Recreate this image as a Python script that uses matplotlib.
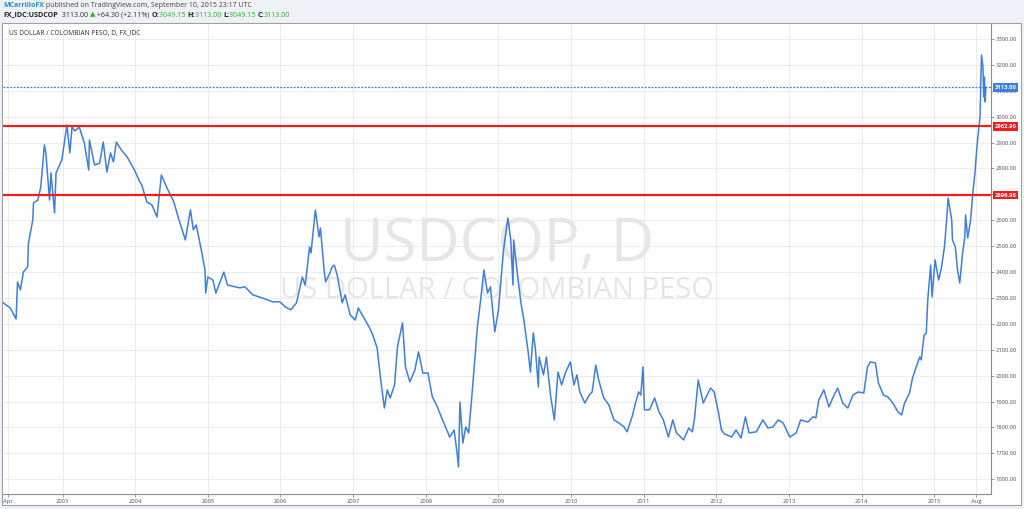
import matplotlib
matplotlib.use("Agg")
import matplotlib.pyplot as plt
import matplotlib.transforms as mtransforms
from matplotlib.patches import Rectangle

plt.rcParams['font.family'] = ['Open Sans', 'DejaVu Sans']

# USDCOP daily close (decimal year, price)
years = [2002.18, 2002.28, 2002.36, 2002.38, 2002.42, 2002.46, 2002.52, 2002.53, 2002.59, 2002.60,
         2002.66, 2002.70, 2002.75, 2002.77, 2002.82, 2002.84, 2002.89, 2002.91, 2002.99,
         2003.06, 2003.10, 2003.13, 2003.17, 2003.23, 2003.30, 2003.36, 2003.37, 2003.44, 2003.51,
         2003.56, 2003.61, 2003.66, 2003.70, 2003.74, 2003.81, 2003.89, 2003.99,
         2004.05, 2004.09, 2004.16, 2004.23, 2004.30, 2004.36, 2004.43, 2004.53, 2004.59, 2004.69,
         2004.76, 2004.80, 2004.84, 2004.91, 2004.96, 2004.97,
         2005.00, 2005.07, 2005.11, 2005.22, 2005.27, 2005.44, 2005.51, 2005.62, 2005.75, 2005.89, 2005.99,
         2006.07, 2006.14, 2006.22, 2006.30, 2006.34, 2006.40, 2006.42, 2006.48, 2006.53, 2006.55,
         2006.60, 2006.62, 2006.68, 2006.71, 2006.74, 2006.78, 2006.81, 2006.85, 2006.89, 2006.96,
         2007.03, 2007.07, 2007.15, 2007.22, 2007.26, 2007.33, 2007.38, 2007.43, 2007.47, 2007.51,
         2007.57, 2007.61, 2007.68, 2007.72, 2007.78, 2007.85, 2007.90, 2007.96,
         2008.03, 2008.09, 2008.16, 2008.23, 2008.29, 2008.33, 2008.39, 2008.43, 2008.45, 2008.47,
         2008.51, 2008.55, 2008.59, 2008.63, 2008.67, 2008.71, 2008.76, 2008.80, 2008.85, 2008.89, 2008.95,
         2009.00, 2009.07, 2009.13, 2009.17, 2009.20, 2009.21, 2009.25, 2009.31, 2009.35, 2009.41,
         2009.44, 2009.48, 2009.51, 2009.55, 2009.56, 2009.62, 2009.66, 2009.72, 2009.77, 2009.82,
         2009.87, 2009.92, 2009.99,
         2010.04, 2010.08, 2010.12, 2010.19, 2010.25, 2010.29, 2010.34, 2010.38, 2010.45, 2010.52,
         2010.59, 2010.66, 2010.73, 2010.77, 2010.84, 2010.88, 2010.93, 2010.96, 2010.99,
         2011.01, 2011.08, 2011.15, 2011.21, 2011.27, 2011.34, 2011.40, 2011.45, 2011.55, 2011.62,
         2011.67, 2011.70, 2011.75, 2011.82, 2011.86, 2011.92, 2011.97,
         2012.03, 2012.07, 2012.11, 2012.21, 2012.27, 2012.34, 2012.40, 2012.45, 2012.55, 2012.64,
         2012.71, 2012.78, 2012.85, 2012.92,
         2013.01, 2013.10, 2013.16, 2013.26, 2013.33, 2013.37, 2013.41, 2013.48, 2013.55, 2013.62,
         2013.67, 2013.74, 2013.81, 2013.88, 2013.95,
         2014.03, 2014.08, 2014.12, 2014.19, 2014.23, 2014.30, 2014.36, 2014.43, 2014.50, 2014.55,
         2014.59, 2014.66, 2014.70, 2014.76, 2014.80, 2014.82, 2014.86, 2014.89, 2014.91, 2014.95, 2014.97,
         2015.01, 2015.06, 2015.10, 2015.14, 2015.17, 2015.19, 2015.24, 2015.25, 2015.29, 2015.32,
         2015.35, 2015.39, 2015.42, 2015.43, 2015.46, 2015.50, 2015.53, 2015.56, 2015.58, 2015.60,
         2015.63, 2015.64, 2015.65, 2015.67, 2015.68, 2015.69, 2015.70, 2015.71]
prices = [2282, 2261, 2219, 2362, 2331, 2400, 2420, 2512, 2601, 2667,
          2678, 2729, 2891, 2860, 2678, 2783, 2628, 2783, 2833,
          2968, 2860, 2960, 2945, 2960, 2898, 2794, 2910, 2813, 2821,
          2902, 2786, 2860, 2825, 2902, 2871, 2844, 2794,
          2756, 2736, 2671, 2659, 2613, 2775, 2729, 2672, 2613, 2524,
          2640, 2563, 2582, 2485, 2408, 2319,
          2381, 2369, 2319, 2400, 2350, 2339, 2343, 2312, 2300, 2285, 2285,
          2265, 2254, 2281, 2381, 2350, 2497, 2474, 2640, 2536, 2570,
          2408, 2362, 2396, 2420, 2427, 2389, 2343, 2281, 2312, 2234,
          2215, 2261, 2223, 2188, 2165, 2107, 1983, 1875, 1945, 1914,
          1964, 2111, 2204, 2034, 1976, 2022, 2092, 2010,
          2010, 1918, 1879, 1829, 1790, 1763, 1790, 1702, 1648, 1898,
          1740, 1802, 1779, 1906, 2049, 2188, 2304, 2408, 2319, 2343, 2169,
          2254, 2485, 2609, 2524, 2350, 2524, 2420, 2280, 2215, 2090,
          2014, 2165, 2099, 1956, 2072, 2003, 2072, 1918, 1829, 2014,
          1964, 2010, 2053,
          1964, 2003, 1937, 1894, 1925, 1937, 2041, 1983, 1914, 1887,
          1829, 1817, 1802, 1783, 1841, 1887, 1937, 1925, 2034,
          1868, 1868, 1914, 1860, 1829, 1763, 1829, 1779, 1752, 1798,
          1783, 1837, 1983, 1894, 1918, 1952, 1937,
          1856, 1790, 1775, 1763, 1790, 1759, 1841, 1779, 1783, 1829,
          1798, 1802, 1829, 1817,
          1763, 1779, 1829, 1821, 1841, 1837, 1906, 1945, 1879, 1925,
          1952, 1894, 1875, 1925, 1937,
          1933, 2034, 2053, 2049, 1972, 1925, 1918, 1894, 1860, 1848,
          1894, 1933, 1991, 2041, 2072, 2061, 2157, 2165, 2292, 2427, 2304,
          2447, 2369, 2420, 2497, 2601, 2686, 2601, 2524, 2497, 2408,
          2358, 2474, 2536, 2621, 2532, 2601, 2705, 2783, 2860, 2922,
          2999, 3130, 3238, 3192, 3076, 3153, 3057, 3113]

resistance = 2962.90
support = 2696.98
last_close = 3113.00

time_ticks = [2002.25] + list(range(2003, 2016)) + [2015.58]
time_labels = ['Apr'] + [str(y) for y in range(2003, 2016)] + ['Aug']
price_ticks = list(range(1600, 3400, 100))

blue = '#3f7fd8'
red = '#f21c1c'
green = '#2fb12f'

fig = plt.figure(figsize=(10.24, 5.09), dpi=100, facecolor='#eef1f5')
fig.add_artist(Rectangle((0.00195, 0.00786), 0.995, 0.947, transform=fig.transFigure,
                         facecolor='white', edgecolor='#a0a0a0', lw=0.8, zorder=-1))
ax = fig.add_axes([0.00293, 0.0295, 0.9648, 0.9234])
ax.set_facecolor('white')

ax.plot(years, prices, color=blue, lw=1.1, zorder=3)
ax.axhline(resistance, color=red, lw=1.6, zorder=4)
ax.axhline(support, color=red, lw=1.6, zorder=4)
ax.axhline(last_close, color='#3d7fd9', lw=0.9, ls=(0, (1.5, 1.2)), zorder=4)

ax.set_xlim(2002.18, 2015.78)
ax.set_ylim(1543, 3358)
ax.set_xticks(time_ticks)
ax.set_xticklabels(time_labels)
ax.set_yticks(price_ticks)
ax.set_yticklabels(['%.2f' % p for p in price_ticks])
ax.yaxis.tick_right()
ax.tick_params(axis='both', length=2, width=0.6, color='#888888', labelsize=4.2,
               labelcolor='#555555', pad=1.5)
ax.grid(color='#ececec', lw=0.7, zorder=0)
ax.set_axisbelow(True)
for s in ['left', 'top']:
    ax.spines[s].set_visible(False)
for s in ['right', 'bottom']:
    ax.spines[s].set_color('#8c8c8c')
    ax.spines[s].set_linewidth(0.8)

# price scale markers
trans = mtransforms.blended_transform_factory(ax.transAxes, ax.transData)
for val, col in [(last_close, '#3d7fd9'), (resistance, red), (support, red)]:
    ax.text(1.0035, val, '%.2f' % val, transform=trans, ha='left', va='center', fontsize=4.2,
            color='white', fontweight='bold',
            bbox=dict(boxstyle='square,pad=0.3', fc=col, ec='none'), zorder=6)

# watermark
ax.text(0.5, 0.53, 'USDCOP, D', transform=ax.transAxes, ha='center', va='center',
        fontsize=43, color='#e6e6e6', zorder=1)
ax.text(0.5, 0.432, 'US DOLLAR / COLOMBIAN PESO', transform=ax.transAxes, ha='center',
        va='center', fontsize=21, color='#e6e6e6', zorder=1)

ax.text(0.006, 0.979, 'US DOLLAR / COLOMBIAN PESO, D, FX_IDC', transform=ax.transAxes,
        fontsize=4.8, color='#333333', va='center')


def chain(parts, x, y, size):
    s, c, w = parts[0]
    t = ax.annotate(s, xy=(x, y), xycoords='figure fraction', fontsize=size, color=c,
                    fontweight=w, va='center', annotation_clip=False)
    for s, c, w in parts[1:]:
        t = ax.annotate(s, xy=(1, 0), xycoords=t, fontsize=size, color=c, fontweight=w,
                        va='bottom', annotation_clip=False)


chain([('MCarrilloFX', '#2a8fd0', 'bold'),
       (' published on TradingView.com, September 10, 2015 23:17 UTC', '#444444', 'normal')],
      0.003, 0.990, 5)
chain([('FX_IDC:USDCOP', '#222222', 'bold'),
       ('  3113.00 ', '#333333', 'normal'),
       ('\u25b2', green, 'normal'),
       (' +64.30 (+2.11%) ', '#333333', 'normal'),
       ('O:', '#222222', 'bold'), ('3049.15 ', green, 'normal'),
       ('H:', '#222222', 'bold'), ('3113.00 ', green, 'normal'),
       ('L:', '#222222', 'bold'), ('3049.15 ', green, 'normal'),
       ('C:', '#222222', 'bold'), ('3113.00', green, 'normal')],
      0.003, 0.9705, 5.1)

fig.savefig('out.png', dpi=100, facecolor=fig.get_facecolor())
